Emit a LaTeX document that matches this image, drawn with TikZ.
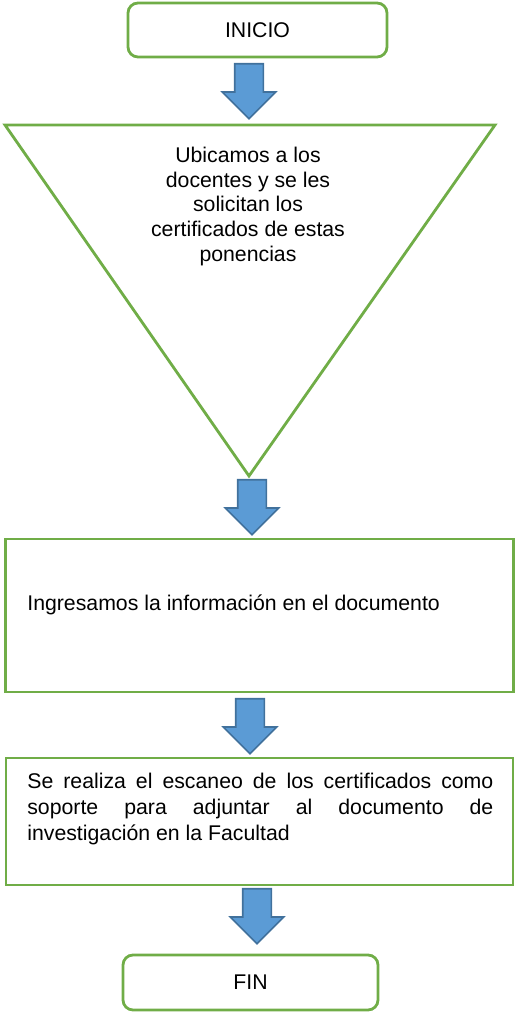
\documentclass[tikz,border=0pt]{standalone}
\usepackage{fontspec}
\setmainfont{Liberation Sans}
\usetikzlibrary{shapes.arrows, positioning}
\definecolor{stepgreen}{HTML}{70AD47}
\definecolor{arrowblue}{HTML}{5B9BD5}
\definecolor{arrowedge}{HTML}{41719C}
\tikzset{
  startend/.style={draw=stepgreen, line width=1.6pt, rounded corners=0.2cm, minimum height=1.08cm},
  procbox/.style={draw=stepgreen, line width=1.6pt, minimum width=10.16cm},
  downarrow/.style={single arrow, shape border rotate=270, draw=arrowedge, fill=arrowblue,
    line width=0.9pt, minimum height=1.1cm, inner sep=0.27cm, single arrow head extend=0.25cm,
    anchor=tail}
}

\begin{document}
\begin{tikzpicture}[font=\fontsize{12.1pt}{14.1pt}\selectfont]
\useasboundingbox (0,0) rectangle (10.3,20.26);

% Nodes
\node[startend, minimum width=5.18cm] (inicio) at (5.15,19.66) {INICIO};
\node[startend, minimum width=5.1cm, minimum height=1.1cm] (fin) at (5.01,0.61) {FIN};

% Triangle step
\coordinate (tl) at (0.1,17.76);
\coordinate (tr) at (9.9,17.76);
\coordinate (apex) at (4.98,10.74);
\draw[stepgreen, line width=1.6pt] (tl) -- (tr) -- (apex) -- cycle;
\node[align=center] (ubicar) at (4.96,16.13) {Ubicamos a los\\docentes y se les\\solicitan los\\certificados de estas\\ponencias};

% Process boxes
\node[procbox, minimum height=3.06cm] (p1) at (5.19,7.95) {};
\node[anchor=west, inner sep=0pt] (ingresar) at (0.54,8.16) {Ingresamos la información en el documento};
\node[procbox, minimum width=10.14cm, minimum height=2.54cm] (p2) at (5.19,3.83) {};
\node[anchor=west, inner sep=0pt, text width=9.32cm, align=justify,
  font=\fontsize{12.1pt}{14.8pt}\selectfont] (escanear) at (0.54,4.08)
  {Se realiza el escaneo de los certificados como\linebreak soporte para adjuntar al documento de\linebreak investigación en la Facultad};

% Block arrows
\node[downarrow] (a1) at (4.98,19.0) {};
\node[downarrow] (a2) at (5.04,10.68) {};
\node[downarrow] (a3) at (5.0,6.3) {};
\node[downarrow] (a4) at (5.14,2.5) {};

\end{tikzpicture}
\end{document}
